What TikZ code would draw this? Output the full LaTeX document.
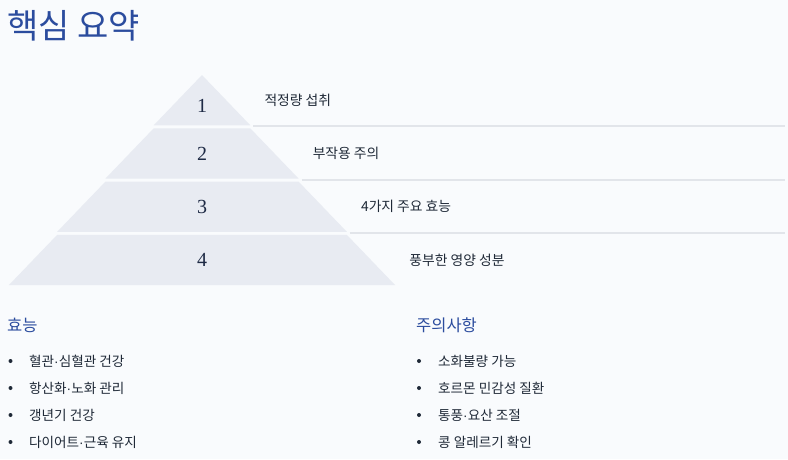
\documentclass[tikz,border=0pt]{standalone}
\usepackage{fontspec}
\setmainfont{Noto Sans CJK KR}
\newfontfamily\numfont{Liberation Serif}
\newfontfamily\dotfont{Liberation Sans}
\newcommand{\mdot}{{\dotfont ·}}

\definecolor{pagebg}{HTML}{F9FBFD}
\definecolor{titleblue}{HTML}{2B4C9E}
\definecolor{bandfill}{HTML}{E8EBF2}
\definecolor{ruleline}{HTML}{E2E5EA}
\definecolor{bodytext}{HTML}{1F2937}
\definecolor{numnavy}{HTML}{1E2A45}

\tikzset{
    title/.style={anchor=west, inner sep=0pt, text=titleblue, font=\fontsize{34}{40}\selectfont},
    heading/.style={anchor=west, inner sep=0pt, text=titleblue, font=\fontsize{16.5}{20}\selectfont},
    steplabel/.style={anchor=west, inner sep=0pt, text=bodytext, font=\fontsize{13.8}{16}\selectfont},
    stepnum/.style={inner sep=0pt, text=numnavy, font=\numfont\fontsize{20}{24}\selectfont},
    listitem/.style={anchor=west, inner sep=0pt, text=bodytext, font=\fontsize{13.6}{16}\selectfont},
    dotmark/.style={circle, fill=bodytext, inner sep=0pt, minimum size=4pt},
}

\begin{document}
\begin{tikzpicture}[x=1pt, y=-1pt]
    \def\apexx{202}
    \def\apexy{75}
    \def\bandh{50.3}
    \def\bandstep{53.3}
    \def\halfw{48.3}

    % page
    \fill[pagebg] (0,0) rectangle (788,459);
    \useasboundingbox (0,0) rectangle (788,459);

    % title
    \node[title] (title) at (7,26) {핵심 요약};

    % pyramid bands with numbers and labels
    \foreach \k/\nudge/\txt in {1/6/적정량 섭취, 2/0/부작용 주의, 3/0/4가지 주요 효능, 4/0/풍부한 영양 성분} {
        \pgfmathsetmacro\bandtop{\apexy+(\k-1)*\bandstep}
        \pgfmathsetmacro\bandbot{\bandtop+\bandh}
        \pgfmathsetmacro\wtop{(\k-1)*\halfw}
        \pgfmathsetmacro\wbot{\k*\halfw}
        \fill[bandfill] (\apexx-\wtop,\bandtop) -- (\apexx+\wtop,\bandtop)
            -- (\apexx+\wbot,\bandbot) -- (\apexx-\wbot,\bandbot) -- cycle;
        \node[stepnum] (num\k) at (\apexx,\bandtop+\bandh/2+\nudge) {\k};
        \node[steplabel] (label\k) at (\apexx+\wbot+14,\bandtop+\bandh/2) {\txt};
    }

    % separator rules
    \foreach \k in {1,2,3} {
        \pgfmathsetmacro\bandbot{\apexy+(\k-1)*\bandstep+\bandh+1}
        \pgfmathsetmacro\wbot{\k*\halfw}
        \draw[ruleline, line width=2pt] (\apexx+\wbot+3,\bandbot) -- (785,\bandbot);
    }

    % effects column
    \node[heading] (effects) at (7,325) {효능};
    \foreach \i/\txt in {1/혈관\mdot 심혈관 건강, 2/항산화\mdot 노화 관리, 3/갱년기 건강, 4/다이어트\mdot 근육 유지} {
        \node[dotmark] (edot\i) at (10.5,334+27*\i) {};
        \node[listitem] (eitem\i) at (29,334+27*\i) {\txt};
    }

    % cautions column
    \node[heading] (cautions) at (416,325) {주의사항};
    \foreach \i/\txt in {1/소화불량 가능, 2/호르몬 민감성 질환, 3/통풍\mdot 요산 조절, 4/콩 알레르기 확인} {
        \node[dotmark] (cdot\i) at (419,334+27*\i) {};
        \node[listitem] (citem\i) at (438,334+27*\i) {\txt};
    }
\end{tikzpicture}
\end{document}
